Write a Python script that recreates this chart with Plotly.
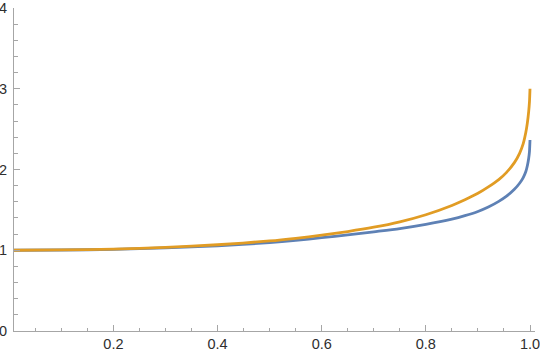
import plotly.graph_objects as go

# data
x_blue = [0.009, 0.1, 0.2, 0.3, 0.4, 0.5, 0.55, 0.6, 0.65, 0.7, 0.75, 0.8, 0.85, 0.875, 0.9, 0.92, 0.94,
          0.955, 0.97, 0.98, 0.987, 0.992, 0.995, 0.9975, 0.999, 1.0]
y_blue = [1.0, 1.003, 1.011, 1.03, 1.055, 1.095, 1.122, 1.155, 1.19, 1.228, 1.268, 1.32, 1.385, 1.428, 1.48,
          1.535, 1.605, 1.67, 1.755, 1.83, 1.90, 1.975, 2.05, 2.14, 2.225, 2.365]

x_orange = [0.009, 0.1, 0.2, 0.3, 0.4, 0.5, 0.55, 0.6, 0.65, 0.7, 0.75, 0.8, 0.85, 0.875, 0.9, 0.92, 0.94,
            0.955, 0.97, 0.98, 0.987, 0.992, 0.995, 0.9975, 0.999, 1.0]
y_orange = [1.0, 1.004, 1.013, 1.035, 1.068, 1.115, 1.148, 1.187, 1.232, 1.285, 1.352, 1.44, 1.555, 1.625, 1.705,
            1.785, 1.875, 1.965, 2.085, 2.2, 2.32, 2.46, 2.58, 2.72, 2.84, 3.0]

x_ticks = [0.2, 0.4, 0.6, 0.8, 1.0]
x_tick_labels = ["0.2", "0.4", "0.6", "0.8", "1.0"]
y_ticks = [0, 1, 2, 3, 4]
y_tick_labels = ["0", "1", "2", "3", "4"]

fig = go.Figure()
fig.add_trace(go.Scatter(x=x_blue, y=y_blue, mode="lines",
                         line=dict(color="#5E81B5", width=2.8, shape="spline", smoothing=0.7),
                         showlegend=False))
fig.add_trace(go.Scatter(x=x_orange, y=y_orange, mode="lines",
                         line=dict(color="#E19C24", width=2.8, shape="spline", smoothing=0.7),
                         showlegend=False))

axis_col = "#a6a6a6"
font = dict(family="Liberation Sans, Arial, sans-serif", size=14.5, color="#2e2e2e")

fig.update_layout(
    width=540, height=353,
    margin=dict(l=13.5, r=5, t=8, b=22),
    paper_bgcolor="white", plot_bgcolor="white",
    font=font,
    xaxis=dict(range=[0.009, 1.0096], showgrid=False, zeroline=False,
               showline=True, linecolor=axis_col, linewidth=1,
               tickmode="array", tickvals=x_ticks, ticktext=x_tick_labels,
               ticks="inside", ticklen=6, tickcolor=axis_col, tickwidth=1,
               minor=dict(dtick=0.05, tick0=0, ticks="inside", ticklen=3.5,
                          tickcolor=axis_col, tickwidth=1, showgrid=False),
               ticklabelstandoff=0, ticklabeloverflow="allow",
               automargin=False, fixedrange=True),
    yaxis=dict(range=[0, 4], showgrid=False, zeroline=False,
               showline=True, linecolor=axis_col, linewidth=1,
               tickmode="array", tickvals=y_ticks, ticktext=y_tick_labels,
               ticks="inside", ticklen=6, tickcolor=axis_col, tickwidth=1,
               minor=dict(dtick=0.2, tick0=0, ticks="inside", ticklen=3.5,
                          tickcolor=axis_col, tickwidth=1, showgrid=False),
               ticklabelstandoff=3, ticklabeloverflow="allow",
               automargin=False, fixedrange=True),
)

fig.write_html("out.html")
